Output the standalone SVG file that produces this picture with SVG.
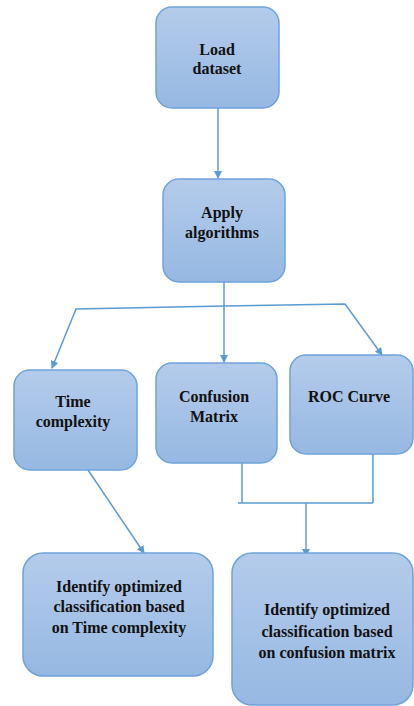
<svg xmlns="http://www.w3.org/2000/svg" width="414" height="706" viewBox="0 0 414 706">
<defs>
<linearGradient id="g" x1="0" y1="0" x2="0" y2="1">
<stop offset="0" stop-color="#b4cceb"/>
<stop offset="1" stop-color="#96b8e2"/>
</linearGradient>
<marker id="a" markerWidth="8" markerHeight="8" refX="7" refY="4" orient="auto" markerUnits="userSpaceOnUse">
<path d="M0,0 L8,4 L0,8 Z" fill="#5b9bd5"/>
</marker>
<style>
.n{fill:url(#g);stroke:#6fa2da;stroke-width:1.5}
.t{font-weight:bold;font-size:16px;fill:#111;text-anchor:middle}
.c{fill:none;stroke:#5b9bd5;stroke-width:1.5}
</style>
</defs>
<rect width="414" height="706" fill="#fff"/>
<g id="connectors">
<path class="c" d="M218,108 V178" marker-end="url(#a)"/>
<path class="c" d="M224,282 V362" marker-end="url(#a)"/>
<path class="c" d="M224,306 L76,309 L52,368" marker-end="url(#a)"/>
<path class="c" d="M224,306 L345,304 L382,355" marker-end="url(#a)"/>
<path class="c" d="M242,463 V503 M373,454 V503 M238,503 H373"/>
<path class="c" d="M306,503 V556" marker-end="url(#a)"/>
<path class="c" d="M88,470 L144,553" marker-end="url(#a)"/>
</g>
<g font-family="Liberation Serif, DejaVu Serif, serif">
<g id="load">
<rect class="n" x="156" y="7" width="123" height="101" rx="16"/>
<text class="t" x="217" y="55">Load</text>
<text class="t" x="217" y="74">dataset</text>
</g>
<g id="apply">
<rect class="n" x="163" y="179" width="122" height="103" rx="16"/>
<text class="t" x="222" y="218">Apply</text>
<text class="t" x="222" y="238">algorithms</text>
</g>
<g id="time">
<rect class="n" x="14" y="370" width="123" height="100" rx="16"/>
<text class="t" x="73" y="407">Time</text>
<text class="t" x="73" y="427">complexity</text>
</g>
<g id="confusion">
<rect class="n" x="156" y="363" width="121" height="100" rx="16"/>
<text class="t" x="214" y="402">Confusion</text>
<text class="t" x="214" y="422">Matrix</text>
</g>
<g id="roc">
<rect class="n" x="290" y="355" width="123" height="99" rx="16"/>
<text class="t" x="349" y="402">ROC Curve</text>
</g>
<g id="opt-time">
<rect class="n" x="23" y="553" width="190" height="123" rx="20"/>
<text class="t" x="119" y="592">Identify optimized</text>
<text class="t" x="119" y="612">classification based</text>
<text class="t" x="119" y="633">on Time complexity</text>
</g>
<g id="opt-confusion">
<rect class="n" x="232" y="553" width="181" height="152" rx="20"/>
<text class="t" x="327" y="615">Identify optimized</text>
<text class="t" x="327" y="637">classification based</text>
<text class="t" x="327" y="658">on confusion matrix</text>
</g>
</g>
</svg>
